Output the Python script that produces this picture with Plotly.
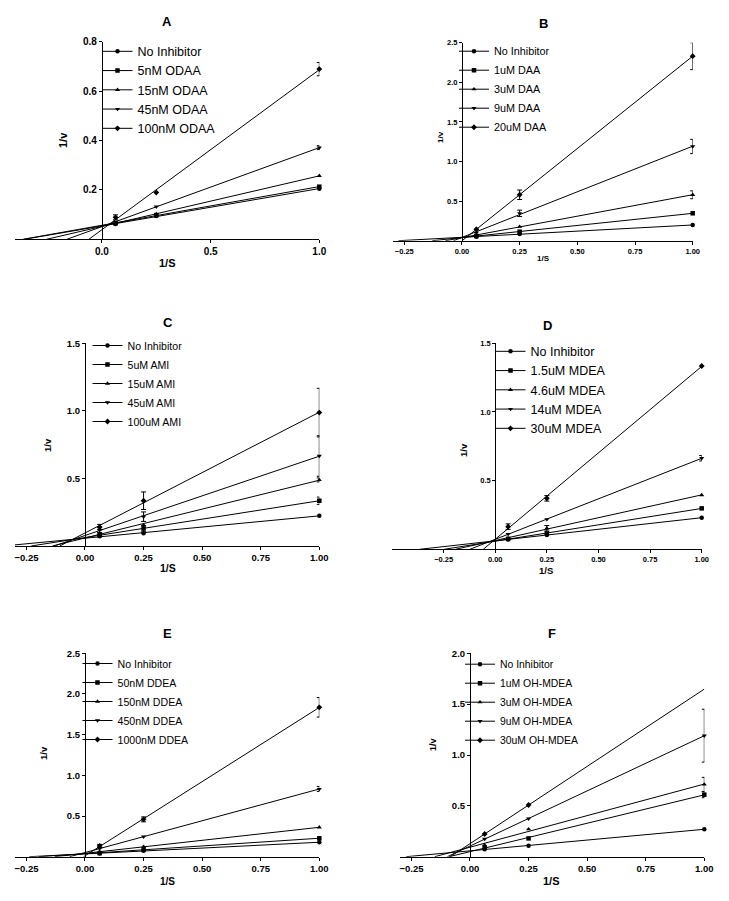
import numpy as np
import plotly.graph_objects as go

# ---------------- data ----------------
inv_s = [0.0625, 0.25, 1.0]           # 1/S values
symbols = ["circle", "square", "triangle-up", "triangle-down", "diamond"]

odaa_names = ["No Inhibitor", "5nM ODAA", "15nM ODAA", "45nM ODAA", "100nM ODAA"]
odaa_values = [[0.062, 0.094, 0.205], [0.065, 0.098, 0.213], [0.066, 0.102, 0.257],
               [0.071, 0.132, 0.371], [0.089, 0.189, 0.689]]
odaa_errors = [[None, None, None], [None, None, None], [None, None, None],
               [None, None, 0.008], [0.01, None, 0.027]]

daa_names = ["No Inhibitor", "1uM DAA", "3uM DAA", "9uM DAA", "20uM DAA"]
daa_values = [[0.05, 0.085, 0.198], [0.06, 0.114, 0.346], [0.07, 0.177, 0.58],
              [0.10, 0.346, 1.19], [0.144, 0.58, 2.33]]
daa_errors = [[None, None, None], [None, None, None], [None, None, 0.05],
              [None, 0.04, 0.09], [None, 0.06, 0.17]]

ami_names = ["No Inhibitor", "5uM AMI", "15uM AMI", "45uM AMI", "100uM AMI"]
ami_values = [[0.072, 0.094, 0.224], [0.08, 0.13, 0.335], [0.095, 0.155, 0.489],
              [0.12, 0.217, 0.666], [0.14, 0.335, 0.987]]
ami_errors = [[None, None, None], [None, 0.02, 0.027], [None, None, 0.015],
              [0.02, 0.035, 0.15], [0.02, 0.065, 0.18]]

mdea_names = ["No Inhibitor", "1.5uM MDEA", "4.6uM MDEA", "14uM MDEA", "30uM MDEA"]
mdea_values = [[0.072, 0.104, 0.23], [0.076, 0.116, 0.298], [0.08, 0.153, 0.395],
               [0.111, 0.218, 0.663], [0.165, 0.371, 1.335]]
mdea_errors = [[None, None, None], [None, None, None], [None, 0.02, None],
               [None, None, 0.02], [0.02, 0.02, None]]

ddea_names = ["No Inhibitor", "50nM DDEA", "150nM DDEA", "450nM DDEA", "1000nM DDEA"]
ddea_values = [[0.04, 0.074, 0.177], [0.045, 0.09, 0.226], [0.06, 0.123, 0.361],
               [0.10, 0.246, 0.832], [0.131, 0.459, 1.836]]
ddea_errors = [[None, None, None], [None, None, None], [None, None, None],
               [None, None, 0.03], [0.02, 0.03, 0.12]]

ohmdea_names = ["No Inhibitor", "1uM OH-MDEA", "3uM OH-MDEA", "9uM OH-MDEA", "30uM OH-MDEA"]
ohmdea_values = [[0.073, 0.108, 0.27], [0.092, 0.18, 0.61], [0.115, 0.27, 0.71],
                 [0.174, 0.374, 1.19], [0.223, 0.508, None]]
ohmdea_errors = [[None, None, None], [None, None, 0.03], [None, None, 0.07],
                 [None, None, 0.26], [None, None, None]]

ticks_x_a = [0.0, 0.5, 1.0]
ticks_x_std = [-0.25, 0.0, 0.25, 0.5, 0.75, 1.0]
ticks_y_a = [0.2, 0.4, 0.6, 0.8]
ticks_y_25 = [0.5, 1.0, 1.5, 2.0, 2.5]
ticks_y_15 = [0.5, 1.0, 1.5]
ticks_y_20 = [0.5, 1.0, 1.5, 2.0]

# ---------------- layout geometry (pixels) ----------------
W, H = 729, 901
def px(x):
    return x / W
def py(y):
    return 1 - y / H

panels = [
    dict(title="A", names=odaa_names, vals=odaa_values, errs=odaa_errors,
         box=(15, 319.3, 41.7, 239.3), xr=(-0.4, 1.0), yr=(0, 0.8),
         xt=ticks_x_a, yt=ticks_y_a, xf=".1f", yf=".1f", tf=10,
         tpos=(167, 21), xtpos=(167, 263), ytpos=(63, 140), atf=11, ytf=11,
         leg=(137.5, 51.7), lf=12.5),
    dict(title="B", names=daa_names, vals=daa_values, errs=daa_errors,
         box=(392.7, 692.7, 42.7, 240.7), xr=(-0.3, 1.0), yr=(0, 2.5),
         xt=ticks_x_std, yt=ticks_y_25, xf=".2f", yf=".1f", tf=7.5,
         tpos=(543, 24), xtpos=(543, 258), ytpos=(441, 137), atf=8, ytf=8,
         leg=(494, 51.7), lf=10.8),
    dict(title="C", names=ami_names, vals=ami_values, errs=ami_errors,
         box=(14.7, 319.3, 343.3, 546), xr=(-0.3, 1.0), yr=(0, 1.5),
         xt=ticks_x_std, yt=ticks_y_15, xf=".2f", yf=".1f", tf=9.5,
         tpos=(168, 322), xtpos=(168, 568), ytpos=(48, 445), atf=10.5, ytf=9.5,
         leg=(127.5, 346), lf=10.6),
    dict(title="D", names=mdea_names, vals=mdea_values, errs=mdea_errors,
         box=(392, 701.7, 343.3, 549.3), xr=(-0.5, 1.0), yr=(0, 1.5),
         xt=ticks_x_std, yt=ticks_y_15, xf=".2f", yf=".1f", tf=7.5,
         tpos=(547, 326), xtpos=(546, 570), ytpos=(463, 450), atf=9.5, ytf=9.5,
         leg=(530.5, 351.7), lf=12.5),
    dict(title="E", names=ddea_names, vals=ddea_values, errs=ddea_errors,
         box=(14.7, 319.3, 653.3, 856.7), xr=(-0.3, 1.0), yr=(0, 2.5),
         xt=ticks_x_std, yt=ticks_y_25, xf=".2f", yf=".1f", tf=9.5,
         tpos=(167, 633), xtpos=(167, 881), ytpos=(43, 753), atf=10, ytf=9.5,
         leg=(117.5, 664), lf=10.6),
    dict(title="F", names=ohmdea_names, vals=ohmdea_values, errs=ohmdea_errors,
         box=(399.7, 704.3, 653.3, 856.7), xr=(-0.3, 1.0), yr=(0, 2.0),
         xt=ticks_x_std, yt=ticks_y_20, xf=".2f", yf=".1f", tf=9.5,
         tpos=(552, 633), xtpos=(551, 881), ytpos=(433, 745), atf=11, ytf=9,
         leg=(500, 664.7), lf=10.4),
]

FONT = "Liberation Sans, Arial, sans-serif"
fig = go.Figure()
annotations = []
layout = dict(template="none", width=W, height=H, margin=dict(l=0, r=0, t=0, b=0, pad=0),
              paper_bgcolor="white", plot_bgcolor="white", showlegend=True,
              font=dict(family=FONT, color="black"))

for i, p in enumerate(panels, start=1):
    sfx = "" if i == 1 else str(i)
    xa, ya = "x" + sfx, "y" + sfx
    legkey = "legend" + sfx
    left, right, top, bottom = p["box"]
    xmin, xmax = p["xr"]
    zero_px = left + (0 - xmin) / (xmax - xmin) * (right - left)

    layout["xaxis" + sfx] = dict(
        domain=[px(left), px(right)], range=list(p["xr"]), anchor=ya,
        automargin=False,
        showgrid=False, zeroline=False, showline=True, linecolor="black", linewidth=1,
        ticks="outside", ticklen=3, tickwidth=1, tickcolor="black",
        tickvals=p["xt"], tickformat=p["xf"],
        tickfont=dict(family=FONT, size=p["tf"], color="black", weight="bold"))
    layout["yaxis" + sfx] = dict(
        domain=[py(bottom), py(top)], range=list(p["yr"]), anchor="free",
        position=px(zero_px), automargin=False,
        showgrid=False, zeroline=False, showline=True, linecolor="black", linewidth=1,
        ticks="outside", ticklen=3, tickwidth=1, tickcolor="black",
        tickvals=p["yt"], tickformat=p["yf"],
        tickfont=dict(family=FONT, size=p["tf"], color="black", weight="bold"))

    tx, ty = p["leg"]
    layout[legkey] = dict(
        x=px(tx - 40), y=py(ty - 15), xanchor="left", yanchor="top",
        font=dict(family=FONT, size=p["lf"], color="black"),
        bgcolor="rgba(0,0,0,0)", borderwidth=0, traceorder="normal")

    for k, (name, vals, errs) in enumerate(zip(p["names"], p["vals"], p["errs"])):
        xs = np.array([x for x, v in zip(inv_s, vals) if v is not None])
        ys = np.array([v for v in vals if v is not None])
        slope, icpt = np.polyfit(xs, ys, 1)
        x0 = max(xmin, -icpt / slope)
        # regression line
        fig.add_trace(go.Scatter(
            x=[x0, xmax], y=[slope * x0 + icpt, slope * xmax + icpt],
            mode="lines", line=dict(color="black", width=1),
            xaxis=xa, yaxis=ya, showlegend=False, hoverinfo="skip"))
        # data points
        fig.add_trace(go.Scatter(
            x=xs, y=ys, mode="markers",
            marker=dict(symbol=symbols[k], size=4.5, color="black"),
            xaxis=xa, yaxis=ya, showlegend=False, cliponaxis=False))
        # error bars
        ex = [x for x, v, e in zip(inv_s, vals, errs) if e is not None and v is not None]
        ey = [v for v, e in zip(vals, errs) if e is not None and v is not None]
        ee = [e for v, e in zip(vals, errs) if e is not None and v is not None]
        if ex:
            fig.add_trace(go.Scatter(
                x=ex, y=ey, mode="markers",
                marker=dict(size=1, color="rgba(0,0,0,0)"),
                error_y=dict(type="data", array=ee, visible=True, width=2.5,
                             thickness=1, color="black"),
                xaxis=xa, yaxis=ya, showlegend=False, cliponaxis=False,
                hoverinfo="skip"))
        # legend entry
        fig.add_trace(go.Scatter(
            x=[None], y=[None], mode="lines+markers", name=name,
            line=dict(color="black", width=1),
            marker=dict(symbol=symbols[k], size=4.5, color="black"),
            xaxis=xa, yaxis=ya, legend=legkey, showlegend=True))

    for txt, pos, size, ang in [("<b>%s</b>" % p["title"], p["tpos"], 13, 0),
                                ("<b>1/S</b>", p["xtpos"], p["atf"], 0),
                                ("<b>1/v</b>", p["ytpos"], p["ytf"], -90)]:
        annotations.append(dict(text=txt, x=px(pos[0]), y=py(pos[1]),
                                xref="paper", yref="paper", showarrow=False,
                                xanchor="center", yanchor="middle", textangle=ang,
                                font=dict(family=FONT, size=size, color="black")))

layout["annotations"] = annotations
fig.update_layout(**layout)
fig.write_html("out.html",
               config={"displayModeBar": False},
               post_script="document.body.style.margin='0px';document.body.style.padding='0px';")
